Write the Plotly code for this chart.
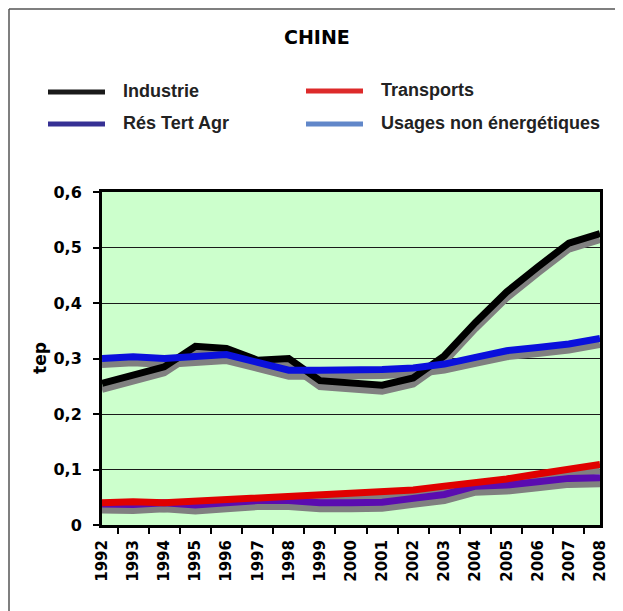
import plotly.graph_objects as go

years = [str(y) for y in range(1992, 2009)]
industrie = [0.255, 0.270, 0.285, 0.322, 0.318, 0.297, 0.300, 0.260, 0.255, 0.252, 0.265, 0.305, 0.365, 0.420, 0.465, 0.508, 0.525]
res_tert_agr = [0.300, 0.303, 0.300, 0.302, 0.307, 0.293, 0.279, 0.279, 0.279, 0.280, 0.283, 0.290, 0.302, 0.314, 0.320, 0.326, 0.336]
transports = [0.040, 0.042, 0.040, 0.043, 0.045, 0.049, 0.053, 0.056, 0.058, 0.060, 0.063, 0.070, 0.075, 0.083, 0.092, 0.102, 0.109]
usages = [0.038, 0.037, 0.040, 0.036, 0.040, 0.044, 0.044, 0.040, 0.040, 0.041, 0.048, 0.055, 0.070, 0.072, 0.078, 0.084, 0.085]

y_tickvals = [0, 0.1, 0.2, 0.3, 0.4, 0.5, 0.6]
y_ticktext = ["0", "0,1", "0,2", "0,3", "0,4", "0,5", "0,6"]

legend_names = ["Industrie", "Transports", "Rés Tert Agr", "Usages non énergétiques"]

W, H = 623, 611
OFF = 8  # page body margin
L, R, T, B = 102 - OFF, 600 - OFF, 192 - OFF, 525 - OFF
YMAX = 0.6
shadow_off = 6 * YMAX / (B - T)

def px(x):
    return (x - OFF - L) / (R - L)

def py(y):
    return (B - (y - OFF)) / (B - T)

series = [
    (industrie, "#000000"),
    (usages, "#5a0cb0"),
    (transports, "#e00000"),
    (res_tert_agr, "#0a10dc"),
]

fig = go.Figure()
for vals, col in series:
    fig.add_trace(go.Scatter(x=years, y=[v - shadow_off for v in vals], mode="lines",
                             line=dict(color="#808080", width=7), showlegend=False, hoverinfo="skip"))
for vals, col in series:
    fig.add_trace(go.Scatter(x=years, y=vals, mode="lines",
                             line=dict(color=col, width=7), showlegend=False))

font_dv = "DejaVu Sans"
font_ar = "Liberation Sans, Arial"

shapes = []
annotations = []
frame_col = "#555555"
shapes.append(dict(type="line", xref="paper", yref="paper", x0=px(9), x1=px(9), y0=py(9), y1=py(640), line=dict(color=frame_col, width=1.5)))
shapes.append(dict(type="line", xref="paper", yref="paper", x0=px(9), x1=px(640), y0=py(9), y1=py(9), line=dict(color=frame_col, width=1.5)))
shapes.append(dict(type="line", xref="paper", yref="paper", x0=px(621), x1=px(621), y0=py(60), y1=py(165), line=dict(color=frame_col, width=1.5)))

leg = [
    (legend_names[0], "#1a1a1a", 48, 92),
    (legend_names[1], "#dd2a2a", 306, 91),
    (legend_names[2], "#363094", 48, 124),
    (legend_names[3], "#6187c9", 306, 124),
]
for name, col, x0, y0 in leg:
    shapes.append(dict(type="line", xref="paper", yref="paper", x0=px(x0), x1=px(x0 + 57),
                       y0=py(y0), y1=py(y0), line=dict(color=col, width=5)))
    annotations.append(dict(text="<b>%s</b>" % name, xref="paper", yref="paper", x=px(x0 + 73), y=py(y0 - 1),
                            xanchor="left", yanchor="middle", showarrow=False,
                            font=dict(family=font_ar, size=18, color="#222222")))

annotations.append(dict(text="<b>CHINE</b>", xref="paper", yref="paper", x=px(317), y=py(37),
                        xanchor="center", yanchor="middle", showarrow=False,
                        font=dict(family=font_dv, size=19, color="#000000")))
annotations.append(dict(text="<b>tep</b>", xref="paper", yref="paper", x=px(40), y=py(358),
                        xanchor="center", yanchor="middle", showarrow=False, textangle=-90,
                        font=dict(family=font_dv, size=17, color="#000000")))

fig.update_layout(
    width=W, height=H,
    margin=dict(l=L, r=W - R, t=T, b=H - B, pad=0),
    paper_bgcolor="white", plot_bgcolor="#ccffcc",
    showlegend=False,
    shapes=shapes, annotations=annotations,
    xaxis=dict(type="category", tickson="boundaries", ticks="outside", ticklen=6, tickwidth=1.5,
               tickcolor="#000", tickangle=-90, showgrid=False, showline=True, linecolor="#000",
               linewidth=3, mirror=True, tickfont=dict(family=font_dv, size=15, color="#000"),
               tickvals=years, ticktext=["<b>%s</b>" % y for y in years],
               ticklabelstandoff=6),
    yaxis=dict(range=[0, YMAX], tickvals=y_tickvals, ticktext=["<b>%s</b>" % t for t in y_ticktext],
               ticks="outside",
               ticklen=6, tickwidth=1.5, tickcolor="#000", showgrid=True, gridcolor="#1a1a1a",
               gridwidth=1, showline=True, linecolor="#000", linewidth=3, mirror=True,
               zeroline=False, tickfont=dict(family=font_dv, size=16, color="#000"),
               ticklabelstandoff=8),
)

fig.write_html("out.html")
